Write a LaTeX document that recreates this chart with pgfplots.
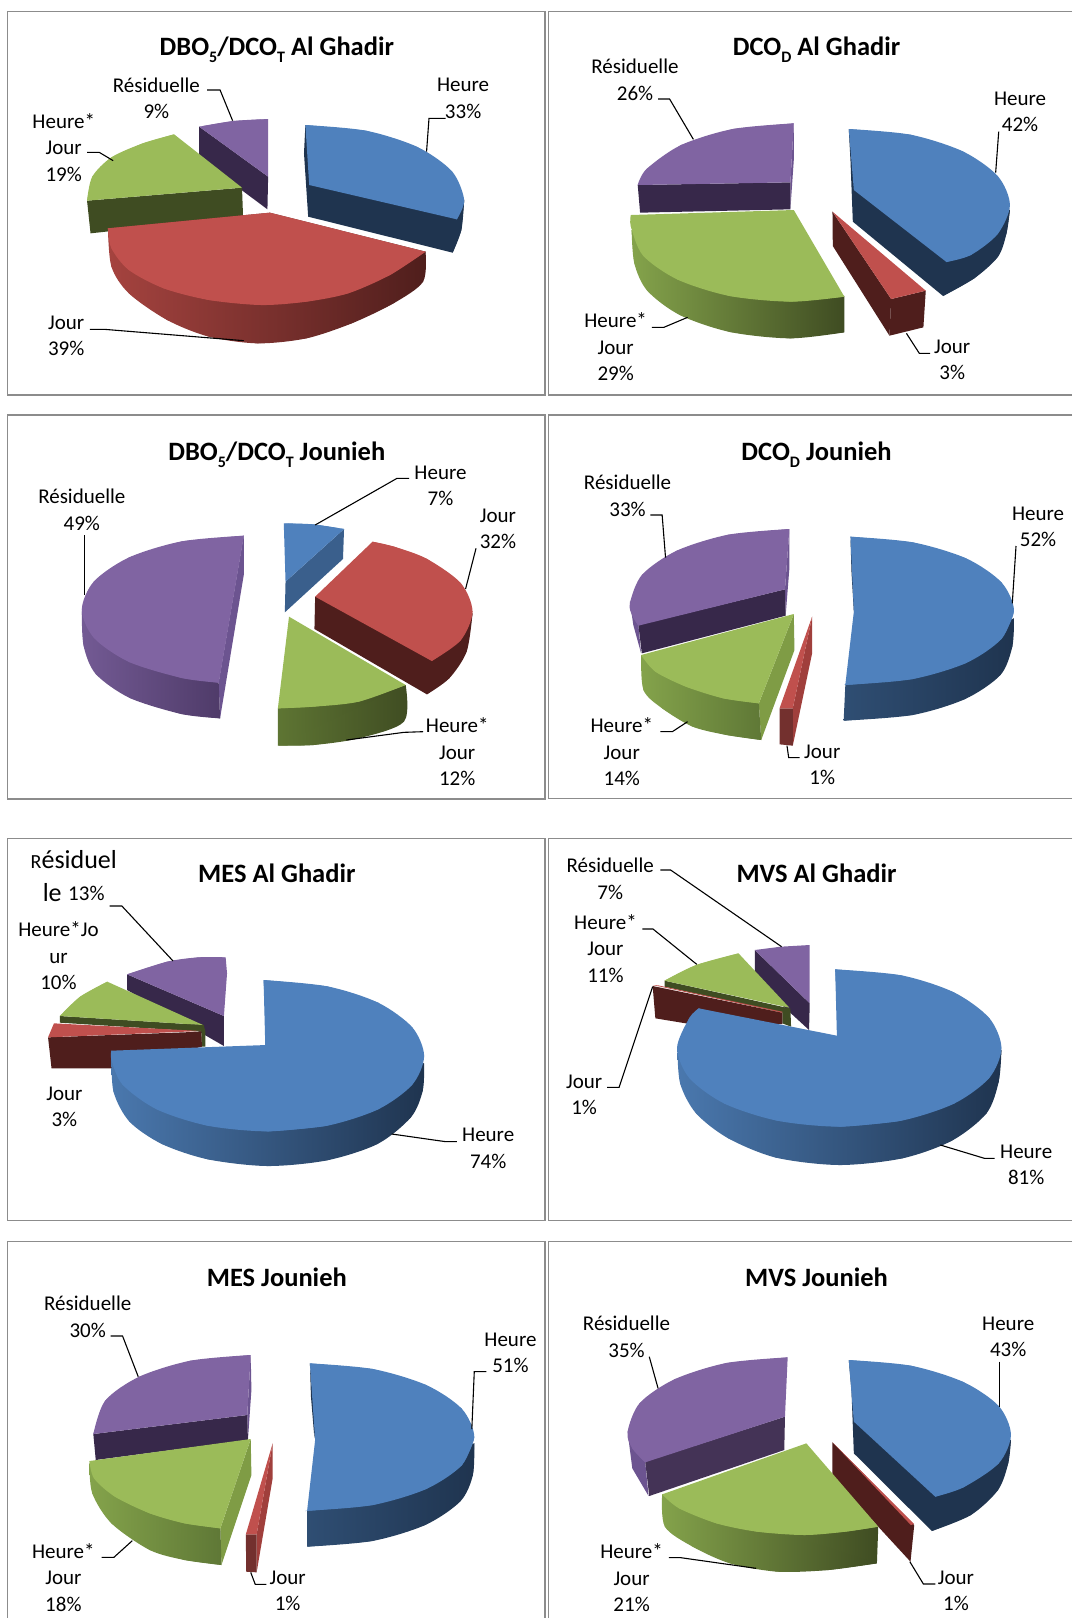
\documentclass[border=0pt]{standalone}
\usepackage{fontspec}
\setmainfont{Carlito}
\usepackage{pgfplots}
\pgfplotsset{compat=1.18}
\definecolor{bT}{HTML}{4F81BD}\definecolor{bD}{HTML}{1F344F}\definecolor{bM}{HTML}{4A78AE}\definecolor{bN}{HTML}{2F4E73}\definecolor{bI}{HTML}{3A5F8C}
\definecolor{rT}{HTML}{C0504D}\definecolor{rD}{HTML}{4F1E1C}\definecolor{rM}{HTML}{A5433F}\definecolor{rS}{HTML}{A03F3C}\definecolor{rF}{HTML}{73302E}
\definecolor{gT}{HTML}{9BBB59}\definecolor{gD}{HTML}{3F4C22}\definecolor{gM}{HTML}{84A34B}\definecolor{gS}{HTML}{7F9C45}\definecolor{gN}{HTML}{5E7533}\definecolor{gE}{HTML}{5F7836}
\definecolor{pT}{HTML}{8064A2}\definecolor{pD}{HTML}{37284A}\definecolor{pM}{HTML}{735A94}\definecolor{pS}{HTML}{4F3B69}\definecolor{pI}{HTML}{443356}\definecolor{pL}{HTML}{6C5490}
\definecolor{frm}{HTML}{8C8C8C}
% a face: polygon through the arc points and the corners, and the smooth arc over it
\newcommand\arcf[3]{\addplot[draw=none,fill=#1] coordinates {#2 #3};\addplot[smooth,draw=none,fill=#1] coordinates {#2};}
\newcommand\shf[4]{\addplot[draw=none,left color=#1,right color=#2] coordinates {#3 #4};\addplot[smooth,draw=none,left color=#1,right color=#2] coordinates {#3};}
\newcommand\smf[2]{\addplot[smooth,draw=none,fill=#1] coordinates {#2};}
\newcommand\pol[2]{\addplot[draw=none,fill=#1] coordinates {#2};}
\newcommand\ldr[1]{\addplot[black,line width=1.1pt] coordinates {#1};}
\newcommand\frmL[1]{\addplot[frm,line width=1.6pt] coordinates {#1};}
\newcommand\sbs[1]{\raisebox{-7.5pt}{\fontsize{16}{16}\selectfont #1}}
\pgfplotsset{panel/.style={hide axis,scale only axis,y dir=reverse,xmin=0,xmax=1568,ymin=0,anchor=north west},
 L/.style={panel,width=546pt},R/.style={panel,width=532pt}}
\tikzset{lab/.style={font=\fontsize{21}{26.5}\selectfont,align=center,inner sep=0pt},
 ttl/.style={font=\fontsize{26.5}{30}\selectfont\bfseries,inner sep=0pt,anchor=base}}
\begin{document}
\begin{tikzpicture}
\fill[white] (0pt,0pt) rectangle (1072pt,-1618pt);
% ---------------- panel 1
\begin{axis}[L,at={(0pt,0pt)},height=400pt,ymax=1200]
\frmL{(1568,35)(22,35)(22,1185)(1568,1185)}
\pol{pD}{(572,380)(770,530)(768,628)(572,475)}
\arcf{pT}{(572,380)(670,363)(770,357)}{(770,530)}
\pol{gD}{(250,602)(695,563)(698,650)(260,700)}
\arcf{gT}{(250,602)(265,530)(320,472)(410,430)(500,403)}{(695,563)}
\arcf{bD}{(1300,758)(1325,690)(1333,600)}{(877,375)(873,460)(885,650)}
\arcf{bT}{(877,375)(1051,392)(1199,441)(1298,514)(1333,600)(1312,658)}{(888,555)}
\shf{rM}{rD}{(310,685)(320,800)(370,880)(480,960)(600,1010)(740,1030)(880,1015)(1010,970)(1130,910)(1215,845)(1222,755)}{(775,638)}
\arcf{rT}{(310,685)(320,745)(370,810)(470,865)(600,900)(750,915)(880,905)(1000,880)(1120,825)(1222,755)}{(775,638)}
\ldr{(1280,355)(1232,355)(1225,455)}
\ldr{(595,270)(632,270)(668,362)}
\ldr{(250,457)(285,457)(325,482)}
\ldr{(258,988)(300,988)(700,1022)}
\node[ttl] at (795,165) {DBO\sbs{5}/DCO\sbs{T} Al Ghadir};
\node[lab] at (1330,295) {Heure\\33\%};
\node[lab] at (449,295) {Résiduelle\\9\%};
\node[lab] at (183,442) {Heure*\\Jour\\19\%};
\node[lab] at (190,1008) {Jour\\39\%};
\end{axis}
% ---------------- panel 2
\begin{axis}[R,at={(540pt,0pt)},height=400pt,ymax=1200]
\frmL{(15,35)(15,1185)}
\frmL{(1568,35)(25,35)(25,1185)(1568,1185)}
\pol{pL}{(748,370)(738,547)(738,628)(748,480)}
\pol{pD}{(288,555)(738,547)(738,628)(295,638)}
\arcf{pT}{(748,370)(568,387)(416,435)(314,507)(288,555)}{(738,547)}
\shf{gM}{gD}{(270,690)(278,790)(316,872)(412,945)(560,996)(738,1015)(897,997)}{(897,888)}
\arcf{gT}{(268,645)(268,680)(304,767)(406,839)(559,888)(740,905)(897,890)}{(748,630)}
\pol{rD}{(862,635)(1035,897)(1030,1007)(863,738)}
\pol{rD}{(1035,897)(1137,872)(1130,982)(1030,1007)}
\pol{rT}{(862,635)(1137,872)(1035,897)}
\arcf{bD}{(1188,888)(1280,835)(1350,770)(1375,700)(1385,630)}{(910,387)(915,480)(922,665)}
\arcf{bT}{(910,387)(1092,404)(1246,454)(1349,528)(1385,615)(1349,702)(1270,765)(1198,786)}{(925,570)}
\ldr{(1352,395)(1343,518)}
\ldr{(348,297)(382,297)(452,418)}
\ldr{(330,982)(365,982)(435,952)}
\ldr{(1150,1060)(1118,1060)(1080,1000)}
\node[ttl] at (815,165) {DCO\sbs{D} Al Ghadir};
\node[lab] at (1415,336) {Heure\\42\%};
\node[lab] at (280,240) {Résiduelle\\26\%};
\node[lab] at (223,1040) {Heure*\\Jour\\29\%};
\node[lab] at (1215,1080) {Jour\\3\%};
\end{axis}
% ---------------- panel 3
\begin{axis}[L,at={(0pt,-405pt)},height=400pt,ymax=1200]
\frmL{(1568,30)(22,30)(22,1182)(1568,1182)}
\pol{bI}{(988,372)(820,530)(818,622)(985,462)}
\arcf{bT}{(815,355)(900,358)(988,372)}{(820,530)}
\arcf{rD}{(1226,868)(1290,820)(1340,740)(1357,625)}{(905,575)(903,672)}
\arcf{rT}{(1070,410)(1132,425)(1225,461)(1323,534)(1357,620)(1323,706)(1240,768)}{(905,575)}
\shf{gN}{gD}{(798,1022)(900,1020)(1030,1000)(1160,950)(1165,840)}{(798,910)}
\arcf{gT}{(798,910)(900,905)(1030,890)(1165,840)}{(830,635)}
\pol{pL}{(700,392)(628,832)(632,940)(700,510)}
\shf{pM}{pS}{(235,620)(240,722)(275,807)(373,879)(521,927)(632,940)}{(628,832)}
\arcf{pT}{(700,392)(522,409)(371,457)(270,529)(235,614)(270,699)(371,771)(522,819)(628,833)}{}
\ldr{(1175,220)(1140,220)(905,360)}
\ldr{(1367,430)(1337,552)}
\ldr{(243,390)(243,570)}
\ldr{(1215,980)(1160,982)(995,1005)}
\node[ttl] at (795,165) {DBO\sbs{5}/DCO\sbs{T} Jounieh};
\node[lab] at (1265,243) {Heure\\7\%};
\node[lab] at (1430,371) {Jour\\32\%};
\node[lab] at (235,314) {Résiduelle\\49\%};
\node[lab] at (1313,1040) {Heure*\\Jour\\12\%};
\end{axis}
% ---------------- panel 4
\begin{axis}[R,at={(540pt,-405pt)},height=400pt,ymax=1200]
\frmL{(15,30)(15,1182)}
\frmL{(1568,30)(25,30)(25,1180)(1568,1180)}
\pol{pL}{(735,372)(722,553)(724,632)(735,490)}
\pol{pL}{(265,590)(275,660)(298,745)(290,660)}
\pol{pD}{(290,660)(722,553)(724,632)(300,745)}
\arcf{pT}{(735,372)(555,389)(403,437)(301,509)(265,594)(272,632)(290,662)}{(722,553)}
\pol{gS}{(748,627)(645,895)(652,1005)(750,735)}
\shf{gM}{gE}{(298,750)(305,855)(360,910)(450,965)(550,990)(652,1005)}{(645,895)}
\arcf{gT}{(298,750)(340,800)(430,845)(540,880)(645,895)}{(748,627)}
\pol{rS}{(802,635)(745,910)(745,1022)(802,745)}
\pol{rF}{(706,910)(745,910)(745,1022)(706,1018)}
\pol{rT}{(802,635)(745,910)(706,910)}
\pol{bD}{(915,395)(930,590)(925,620)(918,500)}
\shf{bN}{bD}{(895,947)(1098,930)(1253,882)(1357,810)(1392,725)(1397,640)}{(900,838)}
\arcf{bT}{(915,395)(1099,412)(1256,460)(1360,532)(1397,617)(1360,702)}{(1256,774)(1099,822)(915,839)(900,838)(925,620)}
\smf{bT}{(1397,617)(1360,702)(1256,774)(1099,822)(915,839)(900,838)}
\ldr{(1403,423)(1392,595)}
\ldr{(325,330)(360,330)(370,458)}
\ldr{(355,980)(390,980)(435,950)}
\ldr{(765,1058)(733,1058)(728,1022)}
\node[ttl] at (815,165) {DCO\sbs{D} Jounieh};
\node[lab] at (1468,365) {Heure\\52\%};
\node[lab] at (258,272) {Résiduelle\\33\%};
\node[lab] at (241,1040) {Heure*\\Jour\\14\%};
\node[lab] at (832,1080) {Jour\\1\%};
\end{axis}
% ---------------- panel 5
\begin{axis}[L,at={(0pt,-830pt)},height=400pt,ymax=1200]
\frmL{(1568,25)(22,25)(22,1172)(1568,1172)}
\pol{pD}{(365,433)(643,558)(643,648)(365,480)}
\arcf{pT}{(365,433)(480,395)(570,382)(648,382)}{(652,430)(643,558)}
\pol{gD}{(172,558)(585,585)(590,605)(590,650)(578,650)(578,605)(172,578)}
\arcf{gT}{(172,558)(230,500)(308,455)}{(583,585)}
\pol{rD}{(138,622)(578,605)(580,650)(320,715)(148,715)}
\pol{rT}{(155,580)(578,603)(138,622)}
\shf{bM}{bD}{(320,670)(326,785)(372,875)(465,942)(597,988)(768,1008)(939,991)(1084,942)(1180,862)(1214,782)(1218,700)}{}
\arcf{bT}{(757,450)(940,469)(1086,518)(1184,592)(1218,678)(1184,764)(1086,838)(940,887)(768,904)}{(596,887)(450,838)(352,764)(320,690)(320,662)(765,645)}
\smf{bT}{(940,887)(768,904)(596,887)(450,838)(352,764)(320,690)(320,662)}
\ldr{(315,228)(350,228)(497,393)}
\ldr{(1312,935)(1280,935)(1125,912)}
\node[ttl] at (795,158) {MES Al Ghadir};
\node[lab,font=\fontsize{26}{30}\selectfont] at (212,88) {{\fontsize{20}{24}\selectfont R}ésiduel};
\node[lab,font=\fontsize{26}{30}\selectfont] at (150,188) {le};
\node[lab] at (248,190) {13\%};
\node[lab] at (168,378) {Heure*Jo\\ur\\10\%};
\node[lab] at (185,830) {Jour\\3\%};
\node[lab] at (1402,955) {Heure\\74\%};
\end{axis}
% ---------------- panel 6
\begin{axis}[R,at={(540pt,-830pt)},height=400pt,ymax=1200]
\frmL{(15,25)(15,1172)}
\frmL{(1568,25)(25,25)(25,1172)(1568,1172)}
\pol{pD}{(633,360)(795,520)(793,600)(633,450)}
\pol{pT}{(795,345)(710,350)(633,360)(795,520)}
\pol{gD}{(367,452)(735,535)(738,535)(740,590)(714,580)(714,548)(367,470)}
\arcf{gT}{(367,452)(460,405)(585,370)}{(735,533)}
\pol{rD}{(332,468)(714,548)(714,582)(430,580)(340,565)}
\pol{rT}{(332,465)(348,466)(714,545)(714,548)}
\shf{bM}{bD}{(405,650)(413,760)(460,850)(555,925)(696,983)(882,1005)(1068,985)(1214,932)(1316,850)(1352,755)(1360,660)}{}
\arcf{bT}{(870,418)(1065,436)(1220,487)(1324,564)(1360,654)(1324,744)(1220,821)(1065,872)(882,890)}{(699,872)(544,821)(440,744)(404,654)(440,564)(468,535)(880,618)}
\smf{bT}{(1065,872)(882,890)(699,872)(544,821)(440,744)(404,654)(440,564)(468,535)}
\ldr{(355,120)(385,120)(712,350)}
\ldr{(302,297)(333,297)(462,403)}
\ldr{(198,772)(233,772)(332,470)}
\ldr{(1340,985)(1310,985)(1180,945)}
\node[ttl] at (815,158) {MVS Al Ghadir};
\node[lab] at (207,146) {Résiduelle\\7\%};
\node[lab] at (193,355) {Heure*\\Jour\\11\%};
\node[lab] at (130,795) {Jour\\1\%};
\node[lab] at (1433,1005) {Heure\\81\%};
\end{axis}
% ---------------- panel 7
\begin{axis}[L,at={(0pt,-1230pt)},height=388pt,ymax=1164]
\frmL{(1568,35)(22,35)(22,1164)}
\pol{pL}{(720,375)(710,555)(712,630)(722,480)}
\pol{pD}{(268,612)(710,555)(712,630)(275,690)}
\arcf{pT}{(720,375)(547,392)(400,440)(302,512)(268,612)}{(710,555)}
\pol{gS}{(720,627)(633,895)(636,1005)(722,735)}
\shf{gM}{gE}{(257,700)(265,790)(320,880)(430,960)(530,990)(636,1005)}{(633,895)}
\arcf{gT}{(257,693)(270,745)(330,800)(430,850)(530,880)(633,895)}{(720,627)}
\pol{rS}{(783,640)(737,913)(737,1027)(783,745)}
\pol{rF}{(706,913)(737,913)(737,1027)(707,1025)}
\pol{rT}{(783,640)(737,913)(706,913)}
\pol{bD}{(890,400)(905,590)(903,625)(893,500)}
\shf{bN}{bD}{(882,950)(1069,933)(1221,885)(1322,814)(1358,735)(1362,640)}{(882,842)}
\arcf{bT}{(890,400)(1071,417)(1224,465)(1326,536)(1362,621)(1326,706)}{(1224,777)(1071,825)(890,842)(882,842)(905,630)}
\smf{bT}{(1362,621)(1326,706)(1224,777)(1071,825)(890,842)(882,842)}
\ldr{(318,318)(352,318)(397,440)}
\ldr{(1397,425)(1362,425)(1355,597)}
\ldr{(292,982)(327,982)(380,932)}
\ldr{(765,1063)(733,1063)(720,1027)}
\node[ttl] at (795,170) {MES Jounieh};
\node[lab] at (252,260) {Résiduelle\\30\%};
\node[lab] at (1466,368) {Heure\\51\%};
\node[lab] at (182,1042) {Heure*\\Jour\\18\%};
\node[lab] at (826,1082) {Jour\\1\%};
\end{axis}
% ---------------- panel 8
\begin{axis}[R,at={(540pt,-1230pt)},height=388pt,ymax=1164]
\frmL{(15,35)(15,1164)}
\frmL{(1568,35)(25,35)(25,1164)}
\pol{pL}{(260,620)(272,715)(320,798)(310,695)}
\pol{pI}{(310,695)(722,560)(720,660)(322,798)}
\arcf{pT}{(730,382)(549,399)(396,448)(294,519)(258,606)(272,655)(310,697)}{(722,560)}
\pol{rD}{(862,637)(1103,885)(1092,995)(997,890)(862,740)}
\pol{rT}{(862,637)(1103,882)(1093,885)}
\shf{gM}{gD}{(360,793)(368,890)(450,950)(560,1000)(700,1025)(850,1020)(993,1000)}{(997,890)}
\arcf{gT}{(360,793)(410,835)(520,880)(640,905)(780,915)(900,905)(997,890)}{(785,640)}
\arcf{bD}{(1155,903)(1270,855)(1350,780)(1380,700)(1388,630)}{(910,390)(918,480)(925,670)}
\arcf{bT}{(910,390)(1093,407)(1248,456)(1352,528)(1388,614)(1352,700)(1248,772)(1165,800)}{(925,575)}
\ldr{(322,380)(348,475)}
\ldr{(1353,395)(1353,530)}
\ldr{(380,983)(415,983)(637,1015)}
\ldr{(1165,1062)(1130,1062)(1090,995)}
\node[ttl] at (815,170) {MVS Jounieh};
\node[lab] at (255,320) {Résiduelle\\35\%};
\node[lab] at (1380,320) {Heure\\43\%};
\node[lab] at (270,1043) {Heure*\\Jour\\21\%};
\node[lab] at (1226,1083) {Jour\\1\%};
\end{axis}
\end{tikzpicture}
\end{document}
